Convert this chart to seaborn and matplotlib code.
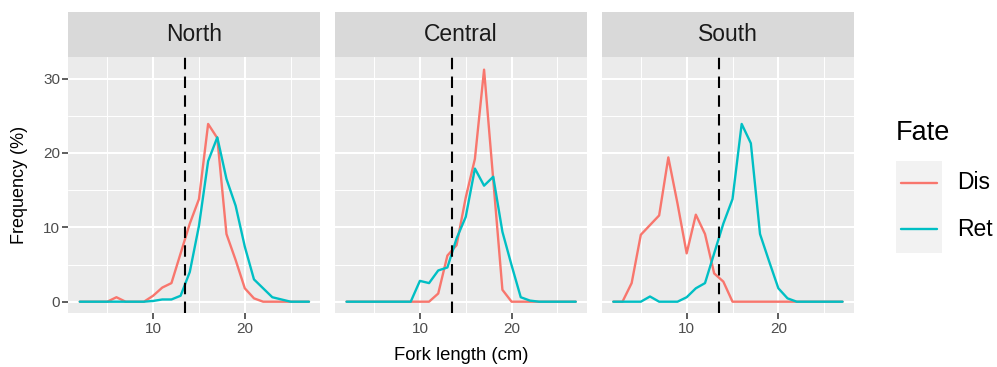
import pandas as pd
import matplotlib.pyplot as plt
from matplotlib.patches import Rectangle
from matplotlib.lines import Line2D
import seaborn as sns

sns.set_theme(style="darkgrid")
plt.rcParams['font.family'] = ['Liberation Sans', 'DejaVu Sans']

# Fork length bins (cm)
lengths = [2, 3, 4, 5, 6, 7, 8, 9, 10, 11, 12, 13, 14, 15, 16, 17, 18, 19,
           20, 21, 22, 23, 24, 25, 26, 27]

regions = ["North", "Central", "South"]
fates = ["Dis", "Ret"]

# Frequency (%) per region and fate
north_dis = [0, 0, 0, 0, 0.6, 0, 0, 0, 0.8, 1.9, 2.5, 6.5, 10.5, 13.8, 23.9,
             22.0, 9.1, 5.6, 1.8, 0.45, 0, 0, 0, 0, 0, 0]
north_ret = [0, 0, 0, 0, 0, 0, 0, 0, 0.1, 0.3, 0.3, 0.8, 4.0, 10.2, 18.9,
             22.1, 16.5, 12.9, 7.4, 3.0, 1.8, 0.6, 0.3, 0, 0, 0]
central_dis = [0, 0, 0, 0, 0, 0, 0, 0, 0, 0, 1.1, 6.2, 7.6, 14.0, 19.2,
               31.2, 16.4, 1.6, 0, 0, 0, 0, 0, 0, 0, 0]
central_ret = [0, 0, 0, 0, 0, 0, 0, 0, 2.8, 2.5, 4.2, 4.6, 8.5, 11.4, 17.9,
               15.6, 16.8, 9.4, 4.9, 0.6, 0.15, 0, 0, 0, 0, 0]
south_dis = [0, 0, 2.5, 9.0, 10.3, 11.6, 19.4, 13.2, 6.5, 11.7, 9.1, 3.8,
             2.7, 0, 0, 0, 0, 0, 0, 0, 0, 0, 0, 0, 0, 0]
south_ret = [0, 0, 0, 0, 0.7, 0, 0, 0, 0.6, 1.8, 2.5, 6.5, 10.5, 13.8, 23.9,
             21.3, 9.1, 5.4, 1.8, 0.45, 0, 0, 0, 0, 0, 0]

cutoff = 13.5  # legal size line

series = {
    ("North", "Dis"): north_dis, ("North", "Ret"): north_ret,
    ("Central", "Dis"): central_dis, ("Central", "Ret"): central_ret,
    ("South", "Dis"): south_dis, ("South", "Ret"): south_ret,
}
frames = []
for (reg, fate), vals in series.items():
    frames.append(pd.DataFrame({"Region": reg, "Fate": fate,
                                "length": lengths, "freq": vals}))
df = pd.concat(frames, ignore_index=True)

colors = ["#F8766D", "#00BFC4"]
W, H = 997, 367

g = sns.relplot(data=df, x="length", y="freq", hue="Fate", col="Region",
                col_order=regions, hue_order=fates, palette=colors,
                kind="line", legend=False, linewidth=1.7,
                height=3, aspect=1, facet_kws={"sharey": True})
g.figure.set_size_inches(W / 100, H / 100)
g.figure.subplots_adjust(left=68.3 / W, right=854 / W,
                         bottom=1 - 313.3 / H, top=1 - 57 / H,
                         wspace=0.058)
g.set_titles("")
g.set_axis_labels("", "")

strip_h = 45 / 256.3
for i, ax in enumerate(g.axes.flat):
    ax.set_facecolor("#EBEBEB")
    ax.set_xlim(0.75, 28.25)
    ax.set_ylim(-1.56, 32.9)
    ax.set_xticks([10, 20])
    ax.set_xticks([5, 15, 25], minor=True)
    ax.set_yticks([0, 10, 20, 30])
    ax.set_yticks([5, 15, 25], minor=True)
    ax.grid(which="major", color="white", linewidth=1.5)
    ax.grid(which="minor", color="white", linewidth=0.7)
    for s in ax.spines.values():
        s.set_visible(False)
    ax.tick_params(which="major", axis="both", length=4, width=1.1,
                   color="#333333", labelcolor="#4D4D4D", labelsize=11,
                   bottom=True, left=(i == 0), pad=2)
    ax.tick_params(which="minor", length=0)
    ax.axvline(cutoff, color="black", linewidth=1.5, dashes=(5.5, 3.5))
    ax.add_patch(Rectangle((0, 1), 1, strip_h, transform=ax.transAxes,
                           facecolor="#D9D9D9", edgecolor="none",
                           clip_on=False))
    ax.text(0.5, 1 + strip_h / 2, regions[i], transform=ax.transAxes,
            ha="center", va="center", fontsize=16.5, color="#1A1A1A")

fig = g.figure
fig.text(461 / W, 1 - 355 / H, "Fork length (cm)", ha="center",
         va="center", fontsize=13.3, color="black")
fig.text(20 / W, 1 - 185 / H, "Frequency (%)", ha="center", va="center",
         rotation=90, fontsize=13, color="black")

# legend
fig.text(896 / W, 1 - 133 / H, "Fate", ha="left", va="center",
         fontsize=19.5, color="black")
fig.patches.append(Rectangle((896 / W, 1 - 253 / H), 46 / W, 92 / H,
                             transform=fig.transFigure,
                             facecolor="#F2F2F2", edgecolor="none"))
for j, (lab, col) in enumerate(zip(fates, colors)):
    yc = 1 - (183 + 46 * j) / H
    fig.lines.append(Line2D([901 / W, 937 / W], [yc, yc],
                            transform=fig.transFigure, color=col,
                            linewidth=1.7))
    fig.text(957 / W, yc, lab, ha="left", va="center", fontsize=16.5,
             color="black")

fig.savefig("out.png", dpi=100)
